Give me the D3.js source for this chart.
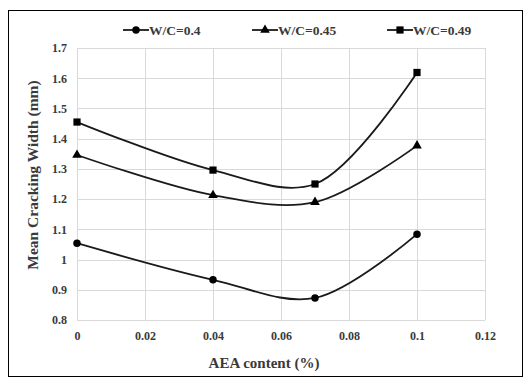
<!DOCTYPE html>
<html>
<head>
<meta charset="utf-8">
<script src="https://cdn.jsdelivr.net/npm/d3@7"></script>
<style>
  body { margin: 0; background: #fff; }
  text { font-family: "Liberation Serif", "Times New Roman", serif; font-weight: bold; }
</style>
</head>
<body>
<svg id="chart"></svg>
<script>
// AEA content (%) on x
const aea = [0, 0.04, 0.07, 0.1];
const wc040 = [1.054, 0.933, 0.873, 1.084];
const wc045 = [1.346, 1.213, 1.19, 1.377];
const wc049 = [1.455, 1.296, 1.25, 1.619];
const seriesNames = ["W/C=0.4", "W/C=0.45", "W/C=0.49"];
const markers = ["circle", "triangle", "square"];
const xTicks = [0, 0.02, 0.04, 0.06, 0.08, 0.1, 0.12];
const yTicks = [0.8, 0.9, 1, 1.1, 1.2, 1.3, 1.4, 1.5, 1.6, 1.7];

const svgWidth = 532, svgHeight = 385;
const margin = { top: 48, right: 47, bottom: 65, left: 77 };
const width = svgWidth - margin.left - margin.right;
const height = svgHeight - margin.top - margin.bottom;

const svg = d3.select("#chart")
  .attr("width", svgWidth)
  .attr("height", svgHeight);

// chart frame
svg.append("rect")
  .attr("x", 8.5).attr("y", 10.5)
  .attr("width", 514).attr("height", 366)
  .attr("fill", "#fff")
  .attr("stroke", "#000")
  .attr("stroke-width", 1);

const g = svg.append("g")
  .attr("transform", "translate(" + margin.left + "," + margin.top + ")");

const x = d3.scaleLinear().domain([0, 0.12]).range([0, width]);
const y = d3.scaleLinear().domain([0.8, 1.7]).range([height, 0]);

// gridlines
g.append("g")
  .selectAll("line")
  .data(yTicks)
  .join("line")
  .attr("x1", 0).attr("x2", width)
  .attr("y1", d => Math.round(y(d)) + 0.5)
  .attr("y2", d => Math.round(y(d)) + 0.5)
  .attr("stroke", "#d9d9d9");

g.append("g")
  .selectAll("line")
  .data(xTicks)
  .join("line")
  .attr("y1", 0).attr("y2", height)
  .attr("x1", d => Math.round(x(d)) + 0.5)
  .attr("x2", d => Math.round(x(d)) + 0.5)
  .attr("stroke", "#d9d9d9");

// axes (labels only)
const xAxis = g.append("g")
  .attr("transform", "translate(0," + height + ")")
  .call(d3.axisBottom(x).tickValues(xTicks).tickSize(0).tickPadding(11).tickFormat(d => String(+d.toFixed(2))));
const yAxis = g.append("g")
  .call(d3.axisLeft(y).tickValues(yTicks).tickSize(0).tickPadding(10).tickFormat(d => String(+d.toFixed(1))));
[xAxis, yAxis].forEach(a => {
  a.select(".domain").remove();
  a.selectAll("text")
    .attr("fill", "#3a3a3a")
    .style("font-size", "12px")
    .style("font-family", "'Liberation Serif', serif")
    .style("font-weight", "bold");
});

// series
const data = [wc040, wc045, wc049].map((vals, i) => ({
  name: seriesNames[i],
  marker: markers[i],
  points: aea.map((a, j) => [a, vals[j]])
}));

const line = d3.line()
  .x(d => x(d[0]))
  .y(d => y(d[1]))
  .curve(d3.curveCatmullRom.alpha(0.5));

const symbolFor = {
  circle: d3.symbol().type(d3.symbolCircle).size(44),
  triangle: d3.symbol().type(d3.symbolTriangle).size(40),
  square: d3.symbol().type(d3.symbolSquare).size(52)
};

const s = g.selectAll(".series")
  .data(data)
  .join("g")
  .attr("class", "series");

s.append("path")
  .attr("d", d => line(d.points))
  .attr("fill", "none")
  .attr("stroke", "#1a1a1a")
  .attr("stroke-width", 1.8);

s.each(function (d) {
  d3.select(this).selectAll("path.mk")
    .data(d.points)
    .join("path")
    .attr("class", "mk")
    .attr("d", symbolFor[d.marker])
    .attr("transform", p => "translate(" + x(p[0]) + "," + y(p[1]) + ")")
    .attr("fill", "#000");
});

// legend
const legendX = [123, 252, 387];
const legend = svg.append("g")
  .selectAll("g")
  .data(data)
  .join("g")
  .attr("transform", (d, i) => "translate(" + legendX[i] + ",30)");
legend.append("line")
  .attr("x1", 0).attr("x2", 26)
  .attr("stroke", "#1a1a1a")
  .attr("stroke-width", 1.8);
legend.append("path")
  .attr("d", d => symbolFor[d.marker]())
  .attr("transform", "translate(13,0)")
  .attr("fill", "#000");
legend.append("text")
  .attr("x", 26)
  .attr("y", 4.5)
  .attr("fill", "#3a3a3a")
  .style("font-size", "13.5px")
  .text(d => d.name);

// axis titles
svg.append("text")
  .attr("x", 264)
  .attr("y", 368)
  .attr("text-anchor", "middle")
  .attr("fill", "#3a3a3a")
  .style("font-size", "15px")
  .text("AEA content (%)");

svg.append("text")
  .attr("transform", "translate(38,175) rotate(-90)")
  .attr("text-anchor", "middle")
  .attr("fill", "#3a3a3a")
  .style("font-size", "15.5px")
  .text("Mean Cracking Width (mm)");
</script>
</body>
</html>
